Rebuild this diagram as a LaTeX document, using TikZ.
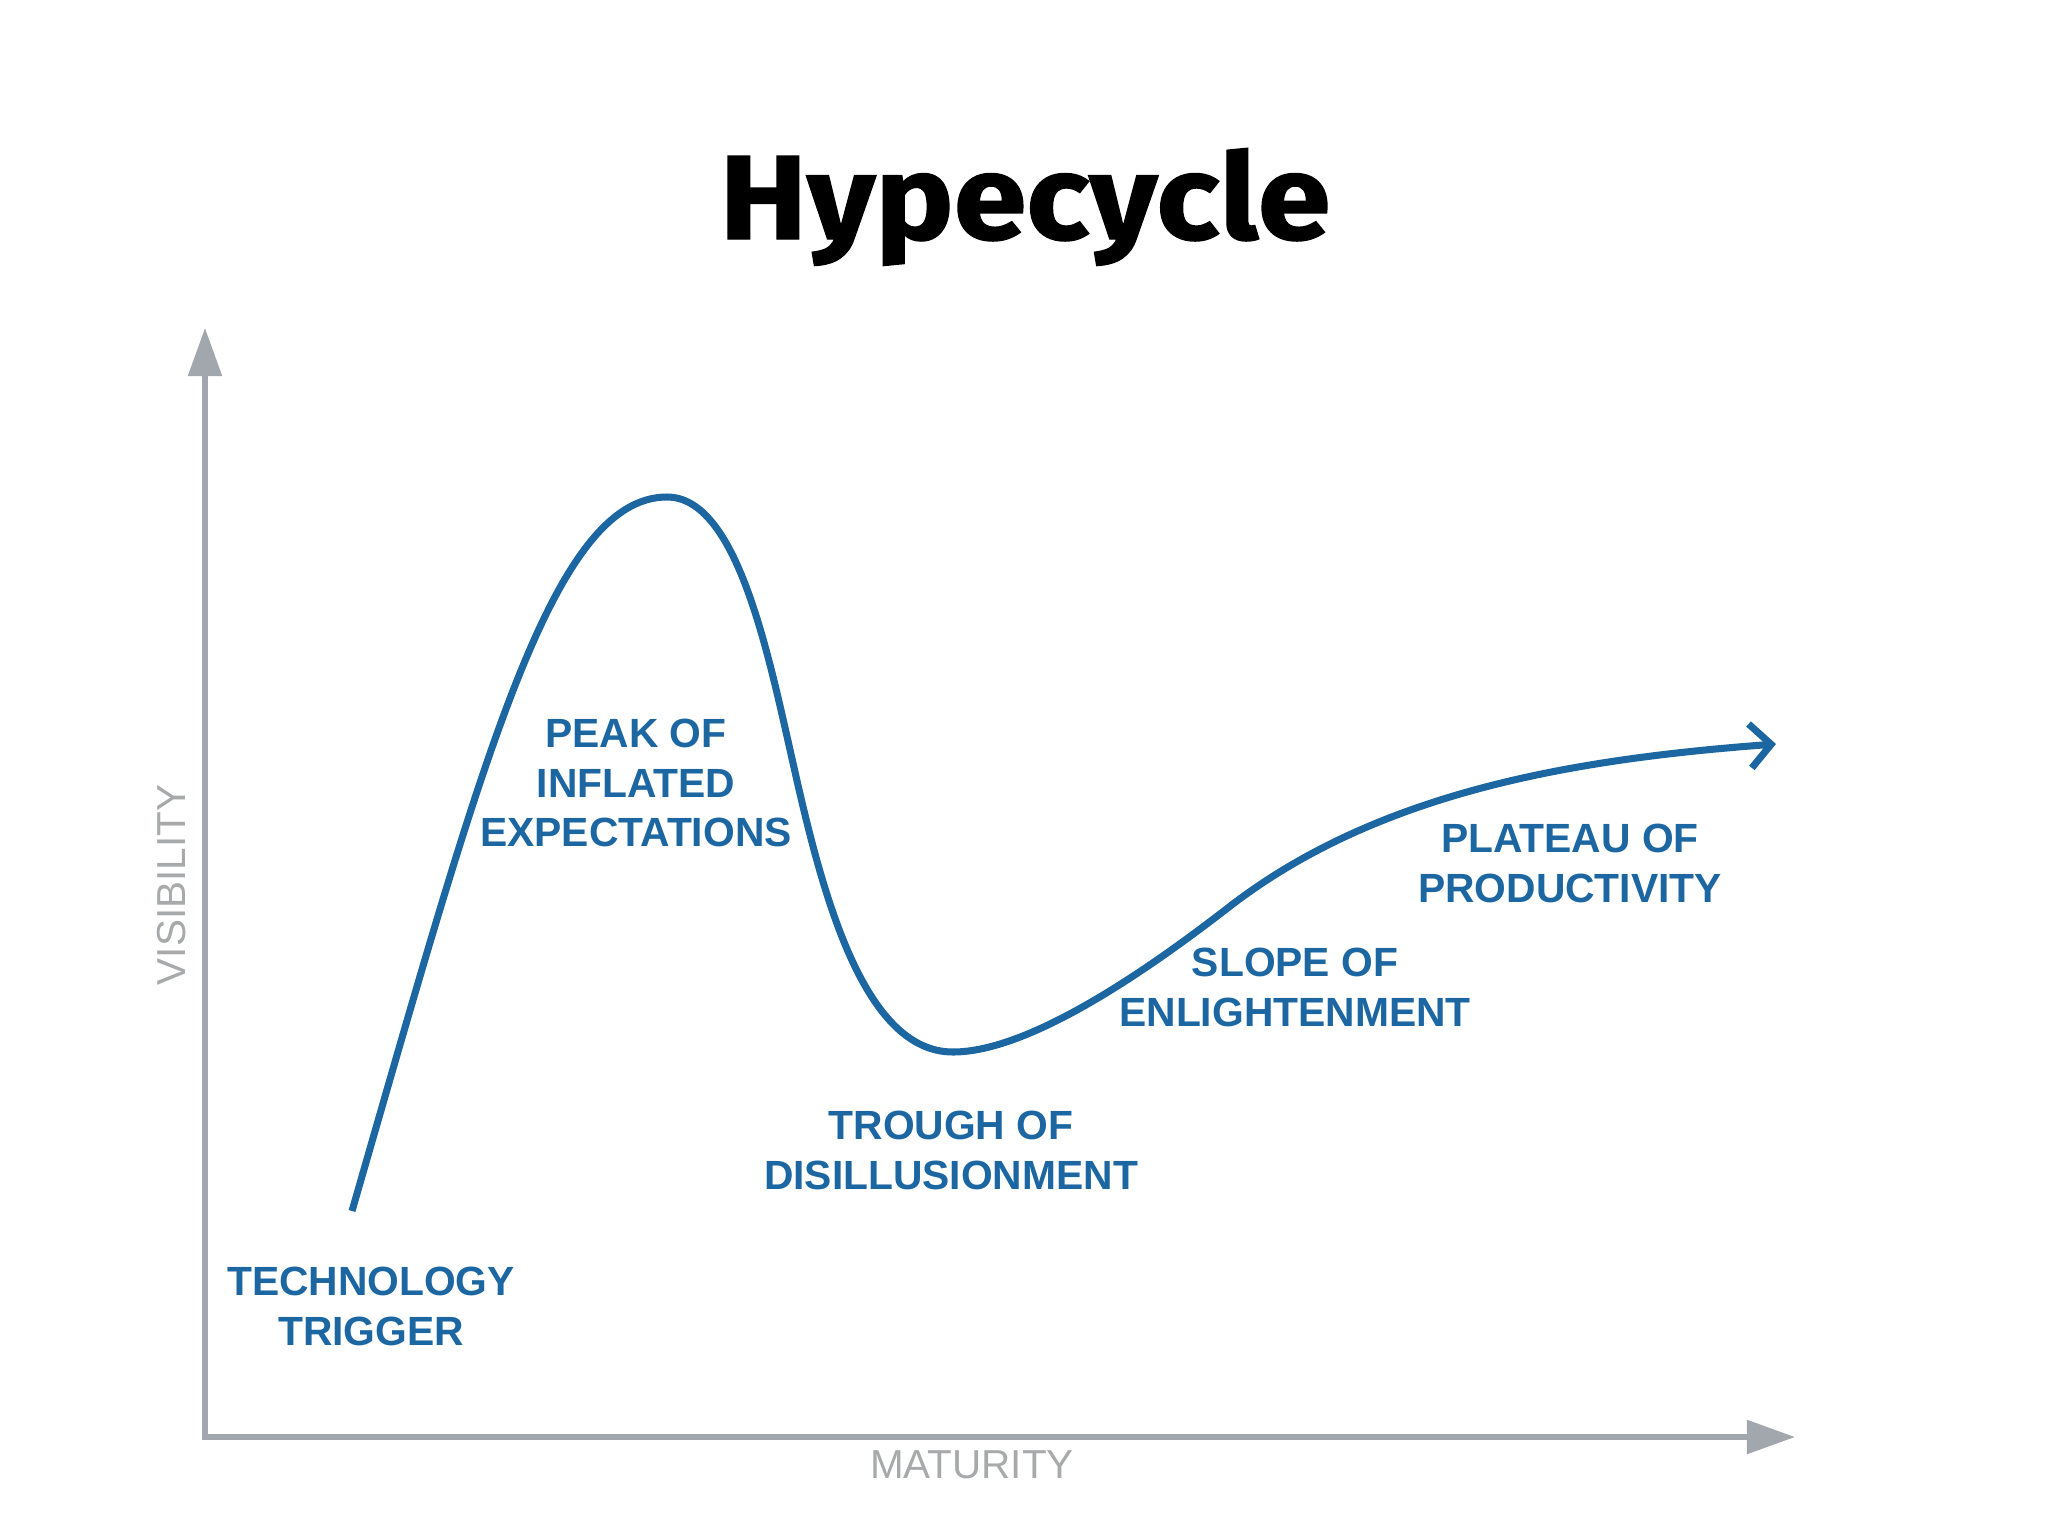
\documentclass[tikz,border=0pt]{standalone}
\usepackage{fontspec}
\setmainfont{Liberation Sans}
\newfontfamily\titlefont[FakeStretch=1.1, FakeBold=1.2]{Fira Sans}
\usetikzlibrary{arrows.meta}
\definecolor{hypeblue}{HTML}{1C66A2}
\definecolor{axisgray}{HTML}{A2A6AD}
\definecolor{labelgray}{HTML}{A8A9AB}

\begin{document}
\begin{tikzpicture}[
    x=0.01cm, y=-0.01cm,
    axis/.style    = {draw=axisgray, line width=1.5pt,
                      {Triangle[length=4.8mm, width=3.3mm]}-{Triangle[length=4.8mm, width=3.3mm]}},
    curve/.style   = {draw=hypeblue, line width=2pt,
                      -{Straight Barb[length=2.1mm, width=4.4mm]}},
    phase/.style   = {text=hypeblue, align=center, inner sep=0pt,
                      font=\fontsize{11.6}{14.2}\selectfont\bfseries},
    axlabel/.style = {text=labelgray, inner sep=0pt,
                      font=\fontsize{11.5}{13}\selectfont}
]
\useasboundingbox (0,0) rectangle (2048,1536);

% Title
\node[anchor=base, font={\titlefont\fontsize{34}{40}\selectfont\bfseries}] (title)
    at (1025,239) {Hypecycle};

% Axes
\coordinate (origin) at (205,1437);
\coordinate (ytip) at (205,328);
\coordinate (xtip) at (1795,1437);
\draw[axis] (ytip) -- (origin) -- (xtip);
\node[axlabel, rotate=90] (vis) at (172,885) {VISIBILITY};
\node[axlabel] (mat) at (972,1465) {MATURITY};

% Hype curve
\coordinate (trigger) at (352,1211);
\coordinate (peak) at (667,497);
\coordinate (fall) at (793,763);
\coordinate (trough) at (953,1052);
\coordinate (slope) at (1229,907);
\coordinate (plateau) at (1776,744);
\draw[curve] (trigger) .. controls (482,761) and (552,497) .. (peak)
    .. controls (737,497) and (768,653) .. (fall)
    .. controls (822,893) and (863,1052) .. (trough)
    .. controls (1030,1052) and (1149,969) .. (slope)
    .. controls (1379,791) and (1576,759) .. (plateau);

% Phase labels
\foreach \n/\x/\y/\txt in {
    trigger-lbl/371/1306/{TECHNOLOGY\\TRIGGER},
    peak-lbl/636/783/{PEAK OF\\INFLATED\\EXPECTATIONS},
    trough-lbl/951/1150/{TROUGH OF\\DISILLUSIONMENT},
    slope-lbl/1295/987/{SLOPE OF\\ENLIGHTENMENT},
    plateau-lbl/1570/863/{PLATEAU OF\\PRODUCTIVITY}}
    \node[phase] (\n) at (\x,\y) {\txt};

\end{tikzpicture}
\end{document}
